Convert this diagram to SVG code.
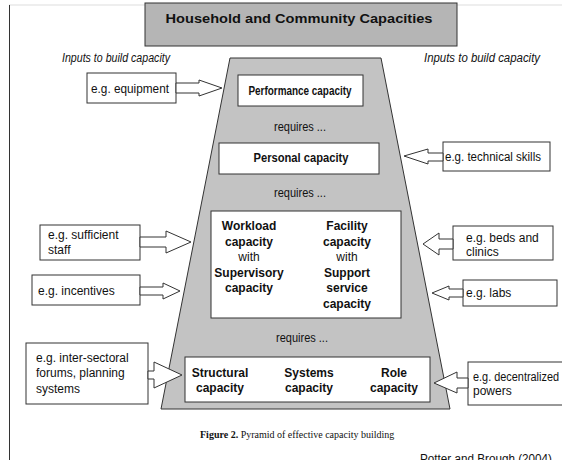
<svg xmlns="http://www.w3.org/2000/svg" width="562" height="460" viewBox="0 0 562 460">
<style>
.t{font-family:"Liberation Sans",Arial,sans-serif;font-size:12px;fill:#111}
.b{font-weight:bold}
.c{text-anchor:middle}
.i{font-style:italic}
.n{font-weight:normal}
.box{fill:#fff;stroke:#333;stroke-width:1}
.arr{fill:#fff;stroke:#333;stroke-width:1}
.cap{font-family:"Liberation Serif","Times New Roman",serif;font-size:10px;fill:#111}
</style>
<rect x="0" y="0" width="562" height="460" fill="#fff"/>
<line x1="9" y1="5" x2="562" y2="5" stroke="#ddd" stroke-width="1"/>
<line x1="9.5" y1="5" x2="9.5" y2="460" stroke="#333" stroke-width="1"/>
<g id="header">
<rect x="145" y="3" width="312" height="43" fill="#b5b5b5" stroke="#333" stroke-width="1"/>
<text class="t b c" x="299" y="23" font-size="16" textLength="267" lengthAdjust="spacingAndGlyphs">Household and Community Capacities</text>
</g>
<g id="labels">
<text class="t i" x="62" y="62" textLength="108" lengthAdjust="spacingAndGlyphs">Inputs to build capacity</text>
<text class="t i" x="424" y="62" textLength="116" lengthAdjust="spacingAndGlyphs">Inputs to build capacity</text>
</g>
<g id="pyramid">
<polygon points="230,58 381,58 450,409 161,409" fill="#c3c3c3" stroke="#333" stroke-width="1"/>
<text class="t c" x="300" y="131" textLength="52" lengthAdjust="spacingAndGlyphs">requires ...</text>
<text class="t c" x="300" y="197" textLength="52" lengthAdjust="spacingAndGlyphs">requires ...</text>
<text class="t c" x="302" y="342" textLength="52" lengthAdjust="spacingAndGlyphs">requires ...</text>
</g>
<g id="performance">
<rect class="box" x="238" y="75" width="125" height="31"/>
<text class="t b c" x="300" y="95" textLength="103" lengthAdjust="spacingAndGlyphs">Performance capacity</text>
</g>
<g id="personal">
<rect class="box" x="219" y="143" width="160" height="31"/>
<text class="t b c" x="301" y="162" textLength="95" lengthAdjust="spacingAndGlyphs">Personal capacity</text>
</g>
<g id="middle">
<rect class="box" x="211" y="211" width="190" height="107"/>
<g class="t b c">
<text x="249" y="230">Workload</text>
<text x="249" y="246">capacity</text>
<text x="249" y="261" class="n">with</text>
<text x="249" y="277">Supervisory</text>
<text x="249" y="292">capacity</text>
<text x="347" y="230">Facility</text>
<text x="347" y="246">capacity</text>
<text x="347" y="261" class="n">with</text>
<text x="347" y="277">Support</text>
<text x="347" y="292">service</text>
<text x="347" y="308">capacity</text>
</g>
</g>
<g id="bottom">
<rect class="box" x="185" y="357" width="245" height="45"/>
<g class="t b c">
<text x="220" y="377">Structural</text>
<text x="220" y="392">capacity</text>
<text x="309" y="377">Systems</text>
<text x="309" y="392">capacity</text>
<text x="394" y="377">Role</text>
<text x="394" y="392">capacity</text>
</g>
</g>
<g id="in-equipment">
<rect class="box" x="87" y="73" width="89" height="30"/>
<text class="t" x="91" y="93" textLength="78" lengthAdjust="spacingAndGlyphs">e.g. equipment</text>
</g>
<g id="in-skills">
<rect class="box" x="443" y="142" width="107" height="29"/>
<text class="t" x="445" y="161" textLength="96" lengthAdjust="spacingAndGlyphs">e.g. technical skills</text>
</g>
<g id="in-staff">
<rect class="box" x="40" y="225" width="100" height="35"/>
<text class="t" x="48" y="239">e.g. sufficient</text>
<text class="t" x="48" y="254">staff</text>
</g>
<g id="in-incentives">
<rect class="box" x="32" y="275" width="108" height="30"/>
<text class="t" x="38" y="295">e.g. incentives</text>
</g>
<g id="in-beds">
<rect class="box" x="453" y="226" width="100" height="34"/>
<text class="t" x="466" y="242">e.g. beds and</text>
<text class="t" x="466" y="256">clinics</text>
</g>
<g id="in-labs">
<rect class="box" x="463" y="280" width="94" height="26"/>
<text class="t" x="466" y="297">e.g. labs</text>
</g>
<g id="in-intersectoral">
<rect class="box" x="26" y="343" width="122" height="61"/>
<text class="t" x="36" y="362">e.g. inter-sectoral</text>
<text class="t" x="36" y="377">forums, planning</text>
<text class="t" x="36" y="393">systems</text>
</g>
<g id="in-decentral">
<rect class="box" x="468" y="362" width="100" height="43"/>
<text class="t" x="473" y="381" textLength="86" lengthAdjust="spacingAndGlyphs">e.g. decentralized</text>
<text class="t" x="473" y="395">powers</text>
</g>
<g id="connectors">
<polygon class="arr" points="176,83 199,83 199,80 222,88 199,96 199,93 176,93"/>
<polygon class="arr" points="443,153 428,153 428,149 404,156 428,164 428,161 443,161"/>
<polygon class="arr" points="140,237 166,237 166,231 191,242 166,253 166,247 140,247"/>
<polygon class="arr" points="140,287 163,287 163,283 180,291 163,299 163,295 140,295"/>
<polygon class="arr" points="453,239 439,239 439,233 423,244 439,255 439,249 453,249"/>
<polygon class="arr" points="463,289 449,289 449,286 432,293 449,300 449,297 463,297"/>
<polygon class="arr" points="148,371 154,371 154,362 182,375 154,388 154,379 148,379"/>
<polygon class="arr" points="468,378 457,378 457,372 434,383 457,393 457,388 468,388"/>
</g>
<g id="caption">
<text class="cap" x="200" y="438"><tspan font-weight="bold">Figure 2.</tspan>   Pyramid of effective capacity building</text>
<text class="t" x="420" y="463" textLength="132" lengthAdjust="spacingAndGlyphs">Potter and Brough (2004)</text>
</g>
</svg>
